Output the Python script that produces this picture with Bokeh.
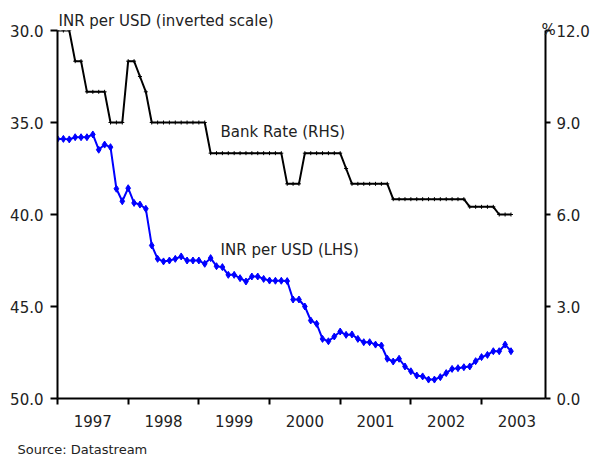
import pandas as pd
from bokeh.plotting import figure
from bokeh.models import (Range1d, LinearAxis, FixedTicker, CustomJSTickFormatter,
                          NumeralTickFormatter, Label, Title, ColumnDataSource)
from bokeh.embed import file_html
from bokeh.resources import INLINE

# Monthly observations, Jan 1997 .. Jun 2003
dates = pd.date_range("1997-01-01", periods=78, freq="MS")

inr_per_usd = [
    35.89, 35.89, 35.92, 35.80, 35.80, 35.80, 35.65, 36.48, 36.20, 36.34, 38.60, 39.28,  # 1997
    38.57, 39.37, 39.46, 39.69, 41.68, 42.41, 42.55, 42.50, 42.41, 42.28, 42.50, 42.50,  # 1998
    42.50, 42.68, 42.37, 42.81, 42.86, 43.28, 43.28, 43.46, 43.64, 43.37, 43.37, 43.50,  # 1999
    43.59, 43.60, 43.60, 43.62, 44.62, 44.62, 45.00, 45.76, 45.94, 46.76, 46.89, 46.63,  # 2000
    46.36, 46.54, 46.52, 46.76, 46.94, 46.94, 47.07, 47.12, 47.84, 47.99, 47.84, 48.26,  # 2001
    48.52, 48.75, 48.80, 48.97, 48.97, 48.84, 48.62, 48.39, 48.35, 48.30, 48.26, 47.97,  # 2002
    47.75, 47.63, 47.43, 47.43, 47.07, 47.43,                                            # 2003
]

bank_rate = [
    12, 12, 12, 11, 11, 10, 10, 10, 10, 9, 9, 9,                 # 1997
    11, 11, 10.5, 10, 9, 9, 9, 9, 9, 9, 9, 9,                    # 1998
    9, 9, 8, 8, 8, 8, 8, 8, 8, 8, 8, 8,                          # 1999
    8, 8, 8, 7, 7, 7, 8, 8, 8, 8, 8, 8,                          # 2000
    8, 7.5, 7, 7, 7, 7, 7, 7, 7, 6.5, 6.5, 6.5,                  # 2001
    6.5, 6.5, 6.5, 6.5, 6.5, 6.5, 6.5, 6.5, 6.5, 6.5, 6.25, 6.25,  # 2002
    6.25, 6.25, 6.25, 6.0, 6.0, 6.0,                             # 2003
]

year_labels = [1997, 1998, 1999, 2000, 2001, 2002, 2003]
lhs_ticks = [30, 35, 40, 45, 50]
rhs_ticks = [0, 3, 6, 9, 12]

x = [d.year + (d.month - 1) / 12 for d in dates]
src = ColumnDataSource(dict(x=x, inr=inr_per_usd, rate=bank_rate))

FONT = "DejaVu Sans"
TXT = "#222222"

x_start, x_end = 1997.0, 2003.905
p = figure(width=595, height=456, output_backend="svg", toolbar_location=None,
           x_range=Range1d(x_start, x_end), y_range=Range1d(50, 30),
           min_border_left=57, min_border_right=50, min_border_top=30, min_border_bottom=58)
p.extra_y_ranges = {"rhs": Range1d(0, 12)}
p.outline_line_color = None
p.xgrid.visible = False
p.ygrid.visible = False
p.background_fill_color = "white"
p.border_fill_color = "white"

# Lines
p.line("x", "rate", source=src, y_range_name="rhs", color="black", line_width=2)
p.scatter("x", "rate", source=src, y_range_name="rhs", marker="cross", size=4,
          color="black", line_width=1)
p.line("x", "inr", source=src, color="#0000FF", line_width=2)
p.scatter("x", "inr", source=src, marker="diamond", size=7, color="#0000FF")

# X axis: labels centred in each year, ticks at year boundaries
xa = p.xaxis[0]
xa.ticker = FixedTicker(ticks=[y + 0.5 for y in year_labels], minor_ticks=year_labels)
xa.formatter = CustomJSTickFormatter(code="return Math.floor(tick).toFixed(0);")
xa.major_tick_out = 0
xa.major_tick_in = 0
xa.minor_tick_out = 6
xa.minor_tick_in = 0
xa.minor_tick_line_width = 2
xa.minor_tick_line_color = "black"
xa.axis_line_width = 2
xa.axis_line_color = "black"
xa.major_label_standoff = 10

# Left axis
ya = p.yaxis[0]
ya.ticker = FixedTicker(ticks=lhs_ticks)
ya.formatter = NumeralTickFormatter(format="0.0")
ya.major_tick_out = 7
ya.major_tick_in = 0
ya.minor_tick_out = 0
ya.minor_tick_in = 0
ya.major_tick_line_width = 2
ya.axis_line_width = 2
ya.major_label_standoff = 7

# Right axis
ra = LinearAxis(y_range_name="rhs", ticker=FixedTicker(ticks=rhs_ticks),
                formatter=NumeralTickFormatter(format="0.0"))
ra.major_tick_out = 5
ra.major_tick_in = 0
ra.minor_tick_out = 0
ra.minor_tick_in = 0
ra.major_tick_line_width = 2
ra.axis_line_width = 2
ra.major_label_standoff = 6
p.add_layout(ra, "right")

for ax in (xa, ya, ra):
    ax.major_label_text_font = FONT
    ax.major_label_text_font_size = "15px"
    ax.major_label_text_color = TXT

def lab(txt, xx, yy):
    p.add_layout(Label(x=xx, y=yy, text=txt, text_font=FONT, text_font_size="15px",
                       text_color=TXT, text_align="left", text_baseline="middle"))

lab("Bank Rate (RHS)", 1999.307, 35.54)
lab("INR per USD (LHS)", 1999.307, 41.93)

def title(txt, size, offset, standoff):
    return Title(text=txt, align="left", offset=offset, standoff=standoff,
                 text_font=FONT, text_font_size=size, text_font_style="normal",
                 text_color=TXT)

# "%" unit marker sitting on top of the right-hand axis (nearest row to the frame)
p.add_layout(title("%", "15px", 484, -17.5), "above")
p.add_layout(title("INR per USD (inverted scale)", "15px", 1, -5), "above")

# invisible spacer strip below the x axis, then the source note
spacer = LinearAxis(ticker=FixedTicker(ticks=[2000.0], minor_ticks=[]),
                    formatter=CustomJSTickFormatter(code="return '';"))
spacer.axis_line_color = None
spacer.major_tick_line_color = None
spacer.minor_tick_line_color = None
spacer.major_tick_out = 10
spacer.major_tick_in = 0
spacer.minor_tick_out = 0
spacer.minor_tick_in = 0
spacer.major_label_standoff = 0
p.add_layout(spacer, "below")
p.add_layout(title("Source:  Datastream", "13px", -40, 0), "below")

open("out.html", "w").write(file_html(p, INLINE))
